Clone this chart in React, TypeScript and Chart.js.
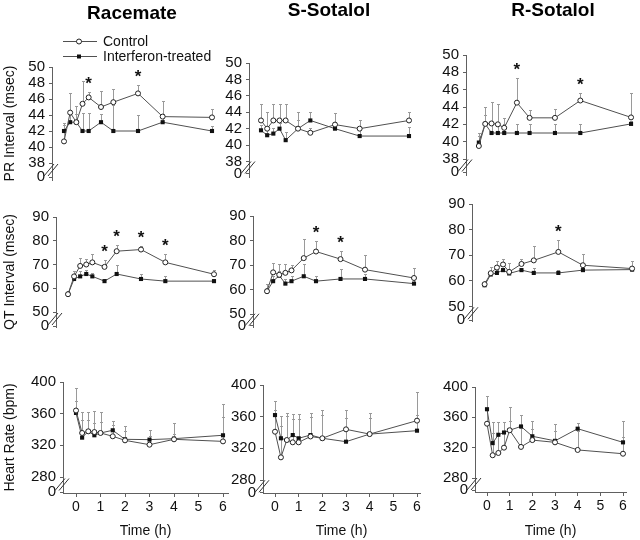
import React, { useEffect, useRef } from 'react';
import { Chart, registerables } from 'chart.js';

Chart.register(...registerables);

const FONT = '"Liberation Sans", Arial, Helvetica, sans-serif';

// ---------- data ----------
const timesH = [0, 0.25, 0.5, 0.75, 1, 1.5, 2, 3, 4, 6];
const xTickValues = [0, 1, 2, 3, 4, 5, 6];
const columnTitles = ['Racemate', 'S-Sotalol', 'R-Sotalol'];
const rowTitles = ['PR Interval (msec)', 'QT Interval (msec)', 'Heart Rate (bpm)'];
const seriesLabels = ['Control', 'Interferon-treated'];
const xAxisTitle = 'Time (h)';
const brokenAxisLabel = '0';

const prTickValues = [38, 40, 42, 44, 46, 48, 50];
const qtTickValues = [50, 60, 70, 80, 90];
const hrTickValues = [280, 320, 360, 400];

// PR interval
const prRacemateControl = [40.7, 44.3, 43.1, 45.4, 46.2, 45.0, 45.6, 46.7, 43.8, 43.7];
const prRacemateControlErr = [2.3, 2.5, 2.0, 2.8, 0.7, 2.0, 1.7, 1.0, 2.0, 1.1];
const prRacemateTreated = [42, 43.1, 43.1, 42, 42, 43.1, 42, 42, 43.1, 42];
const prRacemateTreatedErr = [0.8, 1.0, 1.0, 2.2, 2.2, 1.0, 3.3, 2.0, 1.0, 0.6];
const prRacemateStars = [1, 3];

const prSControl = [43, 42, 43, 43, 43, 42, 41.5, 42.5, 42, 43];
const prSControlErr = [2, 2, 2, 2, 2, 2, 0.6, 1.4, 1, 1];
const prSTreated = [41.8, 41.2, 41.4, 42, 40.6, 42, 43, 42, 41.1, 41.1];
const prSTreatedErr = [0.7, 0.7, 0.7, 0.7, 1, 1, 1, 0.8, 0.7, 1.1];
const prSStars: number[] = [];

const prRControl = [39.5, 42.05, 42.1, 42, 41.6, 44.5, 42.75, 42.75, 44.75, 42.8];
const prRControlErr = [1.5, 1.9, 2.5, 2.3, 1.1, 2.8, 0.85, 1.05, 0.85, 2.85];
const prRTreated = [39.9, 42.05, 41, 41, 41, 41, 41, 41, 41, 42.05];
const prRTreatedErr = [0.7, 1, 1, 1, 1, 1, 1, 1, 1, 0.3];
const prRStars = [1.5, 4];

// QT interval
const qtRacemateControl = [57.5, 65, 69.4, 70, 70.9, 69, 75.6, 76.3, 70.9, 65.9];
const qtRacemateControlErr = [1.5, 2.3, 3.5, 2.3, 3.5, 2.8, 2.8, 1.7, 3.5, 1.7];
const qtRacemateTreated = [57.5, 63.9, 65, 66, 65, 63, 66, 63.9, 63, 63];
const qtRacemateTreatedErr = [1, 1.5, 2.3, 1.5, 1.5, 1, 4, 2, 2.2, 0.8];
const qtRacemateStars = [1.5, 2, 3, 4];

const qtSControl = [59.3, 67, 66, 66.8, 67.8, 72.8, 75.5, 72.4, 68.1, 64.7];
const qtSControlErr = [3, 3.8, 4.6, 3.8, 2, 7.7, 4.5, 3.5, 6, 4];
const qtSTreated = [59.3, 63.4, 65.7, 62.4, 63.4, 65.4, 63.4, 64.3, 64.3, 62.4];
const qtSTreatedErr = [1.5, 2, 2, 2, 2, 5.2, 2.3, 4, 2, 2];
const qtSStars = [2, 3];

const qtRControl = [58.7, 63, 65.2, 66.4, 63.5, 66.6, 68, 71.3, 66.1, 64.8];
const qtRControlErr = [1.3, 2.5, 2.5, 2, 3.5, 1.8, 5.8, 4.7, 4.3, 3];
const qtRTreated = [58.3, 62.5, 63.1, 64.2, 62.9, 64.2, 63.1, 63.1, 64.2, 64.4];
const qtRTreatedErr = [1, 1, 1.2, 1, 1, 1, 2, 1, 1, 1];
const qtRStars = [3];

// Heart rate
const hrRacemateControl = [364, 335.6, 337.7, 336.8, 335.6, 331.4, 326.3, 320.8, 327.6, 325];
const hrRacemateControlErr = [28, 26, 24, 27, 26, 19, 18, 19, 21, 47];
const hrRacemateTreated = [360.9, 329.7, 337.7, 332.7, 335.6, 339, 327.6, 327.2, 328.4, 332.7];
const hrRacemateTreatedErr = [15, 22, 14, 15, 14, 7, 10, 5, 6, 23];
const hrRacemateStars: number[] = [];

const hrSControl = [341, 308.6, 330.5, 327.6, 327.6, 335, 332.7, 344, 338, 355];
const hrSControlErr = [27, 40, 30, 30, 30, 25, 30, 24.5, 27, 36];
const hrSTreated = [362, 332.7, 330.5, 336.8, 332.7, 336.8, 332.7, 328.4, 338, 342.3];
const hrSTreatedErr = [18, 28, 34, 26, 31, 28, 36, 30, 20, 20];
const hrSStars: number[] = [];

const hrRControl = [351.6, 310, 313, 320, 343, 321, 330, 327, 317, 312];
const hrRControlErr = [18, 30, 24, 20, 12, 25, 15, 15, 25, 22];
const hrRTreated = [370.7, 326, 337, 340, 343, 348, 335, 329, 345, 327];
const hrRTreatedErr = [18, 28, 17, 14, 31, 15, 20, 22, 8, 28];
const hrRStars: number[] = [];

// ---------- layout ----------
type Geo = {
  axisX: number; px0: number; px6: number; right: number;
  topPx: number; lowPx: number; zeroPx: number; bottomPx: number;
  titleX?: number; titleY?: number;
};

type Panel = {
  row: number; col: number;
  control: number[]; controlErr: number[];
  treated: number[]; treatedErr: number[];
  stars: number[]; ticks: number[]; geo: Geo;
};

const panels: Panel[] = [
  { row: 0, col: 0, control: prRacemateControl, controlErr: prRacemateControlErr, treated: prRacemateTreated, treatedErr: prRacemateTreatedErr, stars: prRacemateStars, ticks: prTickValues,
    geo: { axisX: 52, px0: 64, px6: 212, right: 216, topPx: 67, lowPx: 163, zeroPx: 177, bottomPx: 180, titleX: 132, titleY: 14 } },
  { row: 0, col: 1, control: prSControl, controlErr: prSControlErr, treated: prSTreated, treatedErr: prSTreatedErr, stars: prSStars, ticks: prTickValues,
    geo: { axisX: 249, px0: 261, px6: 409, right: 413, topPx: 63, lowPx: 161.5, zeroPx: 173.5, bottomPx: 177, titleX: 329, titleY: 11 } },
  { row: 0, col: 2, control: prRControl, controlErr: prRControlErr, treated: prRTreated, treatedErr: prRTreatedErr, stars: prRStars, ticks: prTickValues,
    geo: { axisX: 466, px0: 479, px6: 633, right: 637, topPx: 55, lowPx: 159, zeroPx: 172, bottomPx: 175, titleX: 553, titleY: 11 } },
  { row: 1, col: 0, control: qtRacemateControl, controlErr: qtRacemateControlErr, treated: qtRacemateTreated, treatedErr: qtRacemateTreatedErr, stars: qtRacemateStars, ticks: qtTickValues,
    geo: { axisX: 56, px0: 68, px6: 214, right: 218, topPx: 217, lowPx: 312, zeroPx: 326, bottomPx: 327 } },
  { row: 1, col: 1, control: qtSControl, controlErr: qtSControlErr, treated: qtSTreated, treatedErr: qtSTreatedErr, stars: qtSStars, ticks: qtTickValues,
    geo: { axisX: 253, px0: 267, px6: 414, right: 418, topPx: 216, lowPx: 314, zeroPx: 325.5, bottomPx: 327 } },
  { row: 1, col: 2, control: qtRControl, controlErr: qtRControlErr, treated: qtRTreated, treatedErr: qtRTreatedErr, stars: qtRStars, ticks: qtTickValues,
    geo: { axisX: 472, px0: 485, px6: 637, right: 640, topPx: 204, lowPx: 306.5, zeroPx: 320, bottomPx: 321 } },
  { row: 2, col: 0, control: hrRacemateControl, controlErr: hrRacemateControlErr, treated: hrRacemateTreated, treatedErr: hrRacemateTreatedErr, stars: hrRacemateStars, ticks: hrTickValues,
    geo: { axisX: 63, px0: 76, px6: 223, right: 228, topPx: 382, lowPx: 477, zeroPx: 492, bottomPx: 493 } },
  { row: 2, col: 1, control: hrSControl, controlErr: hrSControlErr, treated: hrSTreated, treatedErr: hrSTreatedErr, stars: hrSStars, ticks: hrTickValues,
    geo: { axisX: 263, px0: 275, px6: 417, right: 420, topPx: 385, lowPx: 480, zeroPx: 492.5, bottomPx: 493 } },
  { row: 2, col: 2, control: hrRControl, controlErr: hrRControlErr, treated: hrRTreated, treatedErr: hrRTreatedErr, stars: hrRStars, ticks: hrTickValues,
    geo: { axisX: 475, px0: 487, px6: 623, right: 626, topPx: 387, lowPx: 478, zeroPx: 490, bottomPx: 492 } },
];

const LINE = '#505050';
const AXIS = '#606060';
const ERR = '#9a9a9a';
const TEXT = '#111111';

function drawMarker(ctx: CanvasRenderingContext2D, kind: 'circle' | 'rect', x: number, y: number) {
  ctx.save();
  ctx.lineWidth = 1;
  if (kind === 'circle') {
    ctx.beginPath();
    ctx.arc(x, y, 2.5, 0, Math.PI * 2);
    ctx.fillStyle = '#ffffff';
    ctx.fill();
    ctx.strokeStyle = '#222';
    ctx.stroke();
  } else {
    ctx.fillStyle = '#111';
    ctx.fillRect(x - 2, y - 2, 4, 4);
  }
  ctx.restore();
}

function buildChart(canvas: HTMLCanvasElement, p: Panel) {
  const g = p.geo;
  const lowVal = p.ticks[0];
  const topVal = p.ticks[p.ticks.length - 1];
  const ppu = (g.lowPx - g.topPx) / (topVal - lowVal);
  const zeroVal = lowVal - (g.zeroPx - g.lowPx) / ppu;
  const yMin = lowVal - (g.bottomPx - g.lowPx) / ppu;
  const pph = (g.px6 - g.px0) / 6;
  const xMin = -(g.px0 - g.axisX) / pph;
  const xMax = 6 + (g.right - g.px6) / pph;
  const isBottom = p.row === 2;
  const isLeft = p.col === 0;

  const decor = {
    id: 'decor' + p.row + p.col,
    beforeDatasetsDraw(chart: any) {
      const xs = chart.scales.x;
      const ys = chart.scales.y;
      const ctx: CanvasRenderingContext2D = chart.ctx;
      ctx.save();
      ctx.strokeStyle = ERR;
      ctx.lineWidth = 1;
      const sets: [number[], number[]][] = [[p.treated, p.treatedErr], [p.control, p.controlErr]];
      sets.forEach(([m, e]) => {
        timesH.forEach((t, i) => {
          const x = Math.round(xs.getPixelForValue(t)) + 0.5;
          const y0 = ys.getPixelForValue(m[i]);
          const y1 = Math.round(ys.getPixelForValue(m[i] + e[i])) + 0.5;
          ctx.beginPath();
          ctx.moveTo(x, y0);
          ctx.lineTo(x, y1);
          ctx.moveTo(x - 1.5, y1);
          ctx.lineTo(x + 1.5, y1);
          ctx.stroke();
        });
      });
      ctx.restore();
    },
    afterDraw(chart: any) {
      const xs = chart.scales.x;
      const ys = chart.scales.y;
      const ctx: CanvasRenderingContext2D = chart.ctx;
      const ax = chart.chartArea.left;
      // axis break marks
      const mid = (ys.getPixelForValue(lowVal) + ys.getPixelForValue(zeroVal)) / 2;
      ctx.save();
      ctx.strokeStyle = '#333';
      ctx.lineWidth = 1;
      [-2, 2].forEach((o) => {
        ctx.beginPath();
        ctx.moveTo(ax - 6 + o, mid + 6);
        ctx.lineTo(ax + 4 + o, mid - 6);
        ctx.stroke();
      });
      ctx.restore();
      // significance stars
      ctx.save();
      ctx.fillStyle = TEXT;
      ctx.font = 'bold 17px ' + FONT;
      ctx.textAlign = 'center';
      ctx.textBaseline = 'alphabetic';
      p.stars.forEach((t) => {
        const i = timesH.indexOf(t);
        const x = xs.getPixelForValue(t);
        const y = ys.getPixelForValue(p.control[i] + p.controlErr[i]) - 13 + 10;
        ctx.fillText('*', x, y);
      });
      ctx.restore();
      // column title
      if (p.row === 0 && g.titleX !== undefined) {
        ctx.save();
        ctx.fillStyle = '#000';
        ctx.font = 'bold 19px ' + FONT;
        ctx.textAlign = 'center';
        ctx.textBaseline = 'middle';
        ctx.fillText(columnTitles[p.col], g.titleX, g.titleY as number);
        ctx.restore();
      }
      // legend
      if (p.row === 0 && p.col === 0) {
        ctx.save();
        const rows: [number, 'circle' | 'rect', string][] = [[41, 'circle', seriesLabels[0]], [56, 'rect', seriesLabels[1]]];
        rows.forEach(([y, kind, label]) => {
          ctx.strokeStyle = LINE;
          ctx.lineWidth = 1;
          ctx.beginPath();
          ctx.moveTo(63, y + 0.5);
          ctx.lineTo(97, y + 0.5);
          ctx.stroke();
          drawMarker(ctx, kind, 79, y + 0.5);
          ctx.fillStyle = TEXT;
          ctx.font = '14px ' + FONT;
          ctx.textAlign = 'left';
          ctx.textBaseline = 'middle';
          ctx.fillText(label, 103, y + 1);
        });
        ctx.restore();
      }
    },
  };

  const mk = (vals: number[]) => timesH.map((t, i) => ({ x: t, y: vals[i] }));

  return new Chart(canvas, {
    type: 'line',
    data: {
      datasets: [
        {
          label: seriesLabels[0],
          data: mk(p.control),
          borderColor: LINE,
          borderWidth: 1,
          pointStyle: 'circle',
          pointRadius: 2.5,
          pointBackgroundColor: '#ffffff',
          pointBorderColor: '#222',
          pointBorderWidth: 1,
          tension: 0,
          clip: false,
        } as any,
        {
          label: seriesLabels[1],
          data: mk(p.treated),
          borderColor: LINE,
          borderWidth: 1,
          pointStyle: 'rect',
          pointRadius: 2.9,
          pointBackgroundColor: '#111',
          pointBorderColor: '#111',
          pointBorderWidth: 0,
          tension: 0,
          clip: false,
        } as any,
      ],
    },
    options: {
      responsive: false,
      animation: false,
      events: [],
      layout: {
        padding: { left: 0, top: g.topPx, right: 640 - g.right, bottom: isBottom ? 0 : 540 - g.bottomPx },
      },
      plugins: { legend: { display: false }, title: { display: false }, tooltip: { enabled: false } },
      scales: {
        x: {
          type: 'linear',
          min: xMin,
          max: xMax,
          display: isBottom,
          afterBuildTicks: (scale: any) => {
            scale.ticks = xTickValues.map((v) => ({ value: v }));
          },
          afterFit: (scale: any) => {
            if (isBottom) scale.height = 540 - g.bottomPx;
          },
          grid: { drawOnChartArea: false, tickLength: 4, color: AXIS },
          border: { color: AXIS, width: 1 },
          ticks: { color: TEXT, font: { family: FONT, size: 14 }, padding: 2, autoSkip: false, maxRotation: 0, callback: (v: any) => String(v) },
          title: { display: isBottom, text: xAxisTitle, color: TEXT, font: { family: FONT, size: 14 }, padding: { top: 0, bottom: 0 } },
        },
        y: {
          type: 'linear',
          min: yMin,
          max: topVal,
          afterBuildTicks: (scale: any) => {
            scale.ticks = [zeroVal, ...p.ticks].map((v) => ({ value: v }));
          },
          afterFit: (scale: any) => {
            scale.width = g.axisX;
          },
          grid: { drawOnChartArea: false, tickLength: 3, color: AXIS },
          border: { color: AXIS, width: 1 },
          ticks: {
            color: TEXT,
            font: { family: FONT, size: 15 },
            padding: 4,
            autoSkip: false,
            callback: (v: any) => (v < lowVal ? brokenAxisLabel : String(v)),
          },
          title: { display: isLeft, text: rowTitles[p.row], color: TEXT, font: { family: FONT, size: 14 }, padding: { top: 2, bottom: 0 } },
        },
      },
    },
    plugins: [decor],
  } as any);
}

function PanelChart({ panel }: { panel: Panel }) {
  const ref = useRef<HTMLCanvasElement | null>(null);
  useEffect(() => {
    if (!ref.current) return;
    const chart = buildChart(ref.current, panel);
    return () => chart.destroy();
  }, [panel]);
  return (
    <canvas
      ref={ref}
      width={640}
      height={540}
      style={{ position: 'absolute', left: 0, top: 0, width: 640, height: 540 }}
    />
  );
}

export default function App() {
  return (
    <div style={{ position: 'absolute', left: 0, top: 0, width: 640, height: 540, background: '#ffffff', overflow: 'hidden' }}>
      {panels.map((p) => (
        <PanelChart key={`${p.row}-${p.col}`} panel={p} />
      ))}
    </div>
  );
}
